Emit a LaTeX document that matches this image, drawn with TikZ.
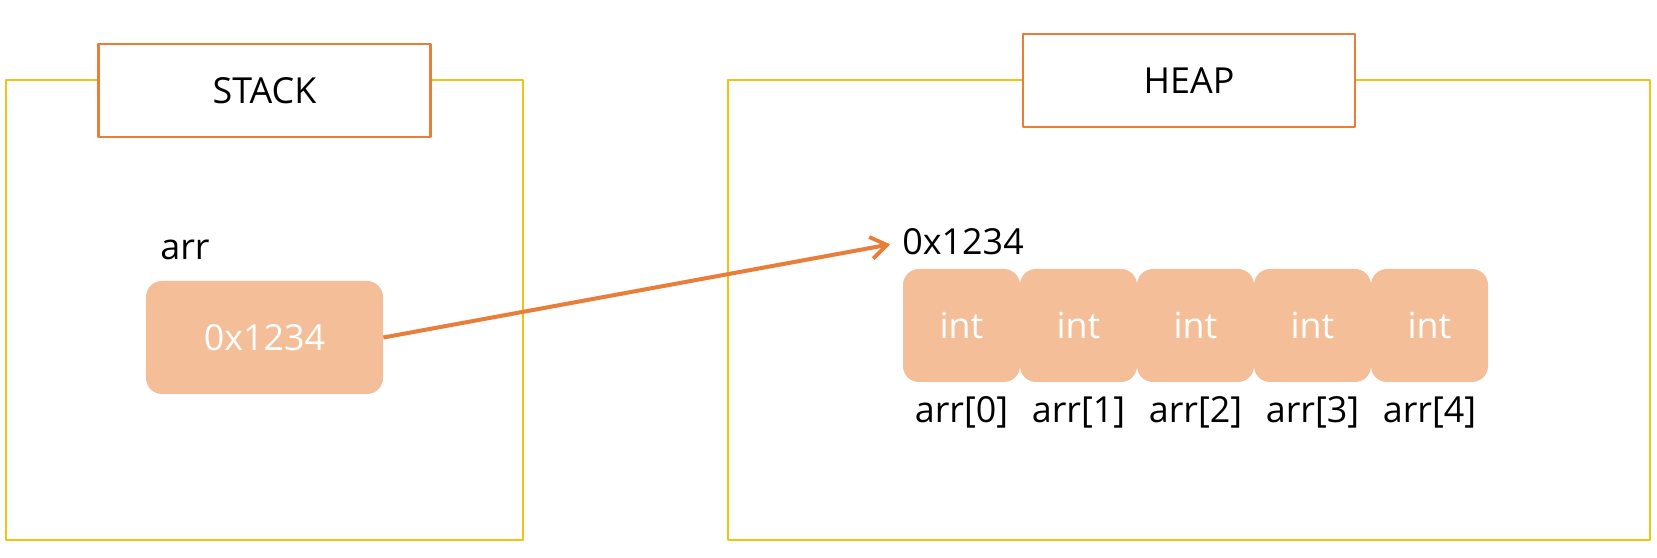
\documentclass[tikz,border=0pt]{standalone}
\usepackage{fontspec}
\setmainfont{Open Sans}
\usetikzlibrary{arrows.meta}
\definecolor{memyellow}{HTML}{F2C314}
\definecolor{memorange}{HTML}{E97D3A}
\definecolor{cellfill}{HTML}{F4BE98}
\newcommand{\memfont}{\fontsize{18}{21}\selectfont}
\begin{document}
\begin{tikzpicture}[x=0.5bp,y=-0.5bp,line join=bevel,
    >={Straight Barb[length=8bp,width=11bp,line width=1.9bp]},
    area/.style={draw=memyellow,line width=1.1bp,rectangle,minimum width=#1,minimum height=230bp,inner sep=0pt},
    title/.style={draw=memorange,line width=1.1bp,fill=white,rectangle,minimum width=166bp,minimum height=46.5bp,font=\memfont},
    cell/.style={fill=cellfill,rectangle,rounded corners=8bp,minimum width=#1,minimum height=56.5bp,inner sep=0pt,text=white,font=\memfont},
    lbl/.style={inner sep=0pt,font=\memfont},
    ptr/.style={->,draw=memorange,line width=2bp,shorten >=6bp},
  ]
    \useasboundingbox (0,0) rectangle (1657,558);
    %%
    \node (stack) at (264.5,310) [area=258.5bp] {};
    \node (heap) at (1189,310) [area=461bp] {};
    \node (stacktitle) at (264.5,90.5) [title] {STACK};
    \node (heaptitle) at (1189,80.5) [title] {HEAP};
    %%
    \node (arr) at (160,260) [lbl,anchor=base west] {arr};
    \node (val) at (264.5,337.5) [cell=118.5bp] {0x1234};
    \node (addr) at (902,255) [lbl,anchor=base west] {0x1234};
    \foreach \i in {0,...,4} {
      \node (c\i) at (961.5+117*\i,325.5) [cell=58.5bp] {int};
      \node (l\i) at (961.5+117*\i,423) [lbl,anchor=base] {arr[\i]};
    }
    \draw [ptr] (val.east) -- (addr.west);
    %
\end{tikzpicture}
\end{document}
